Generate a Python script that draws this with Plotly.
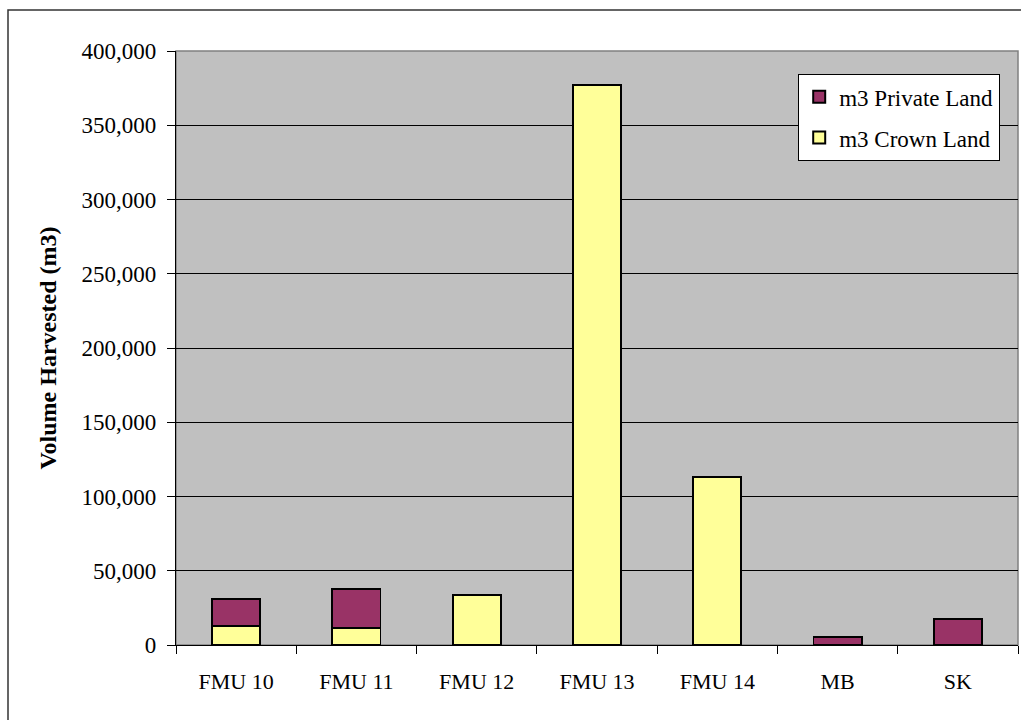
import plotly.graph_objects as go

# Harvest volumes by forest management unit
units = ["FMU 10", "FMU 11", "FMU 12", "FMU 13", "FMU 14", "MB", "SK"]
crown_m3 = [13000, 11700, 33700, 377000, 112900, 0, 0]
private_m3 = [17800, 25800, 0, 0, 0, 5200, 17300]

y_ticks = [0, 50000, 100000, 150000, 200000, 250000, 300000, 350000, 400000]
y_tick_text = ["0", "50,000", "100,000", "150,000", "200,000", "250,000",
               "300,000", "350,000", "400,000"]

W, H = 1021, 720
L, R, T, B = 176, 3, 51, 75
pw, ph = W - L - R, H - T - B

FONT = "Liberation Serif, Times New Roman, serif"

fig = go.Figure()
fig.add_trace(go.Bar(
    x=units, y=crown_m3, name="m3 Crown Land",
    legendgroup="crown", legendrank=2,
    marker=dict(color="#FFFF99", line=dict(color="black", width=1.8)),
))
fig.add_trace(go.Bar(
    x=units, y=private_m3, name="m3 Private Land",
    legendgroup="private", legendrank=1,
    marker=dict(color="#993366", line=dict(color="black", width=1.8)),
))

# outer chart frame (only top and left edges fall inside the page)
fig.add_shape(type="rect", xref="paper", yref="paper",
              x0=(8 - L) / pw, x1=(W + 20 - L) / pw,
              y0=-(H + 20 - (H - B)) / ph, y1=(H - B - 10) / ph,
              line=dict(color="#333333", width=1.5), layer="below")
# plot area border
fig.add_shape(type="rect", xref="paper", yref="paper", x0=0, x1=1, y0=0, y1=1,
              line=dict(color="#808080", width=1.5), layer="below")

fig.update_layout(
    width=W, height=H,
    margin=dict(l=L, r=R, t=T, b=B),
    barmode="stack",
    bargap=0.6,
    paper_bgcolor="white",
    plot_bgcolor="#C0C0C0",
    font=dict(family=FONT, size=22, color="black"),
    showlegend=True,
    legend=dict(
        x=(798 - L) / pw, xanchor="left",
        y=(H - B - 74) / ph, yanchor="top",
        bgcolor="white", bordercolor="black", borderwidth=1.2,
        font=dict(family=FONT, size=23),
        traceorder="grouped",
        itemsizing="constant",
        tracegroupgap=8,
        itemwidth=30,
    ),
    xaxis=dict(
        type="category",
        showgrid=False,
        showline=True, linecolor="black", linewidth=1.2,
        ticks="outside", tickson="boundaries", ticklen=8, tickcolor="black",
        tickfont=dict(family=FONT, size=22),
        ticklabelstandoff=16,
    ),
    yaxis=dict(
        range=[0, 400000],
        tickvals=y_ticks, ticktext=y_tick_text,
        showgrid=True, gridcolor="black", gridwidth=1,
        showline=True, linecolor="black", linewidth=1.2,
        ticks="outside", ticklen=8, tickcolor="black",
        tickfont=dict(family=FONT, size=23),
        ticklabelstandoff=6,
        zeroline=False,
        title=dict(text="<b>Volume Harvested (m3)</b>",
                   font=dict(family=FONT, size=24), standoff=18),
    ),
)

fig.write_html("out.html")
